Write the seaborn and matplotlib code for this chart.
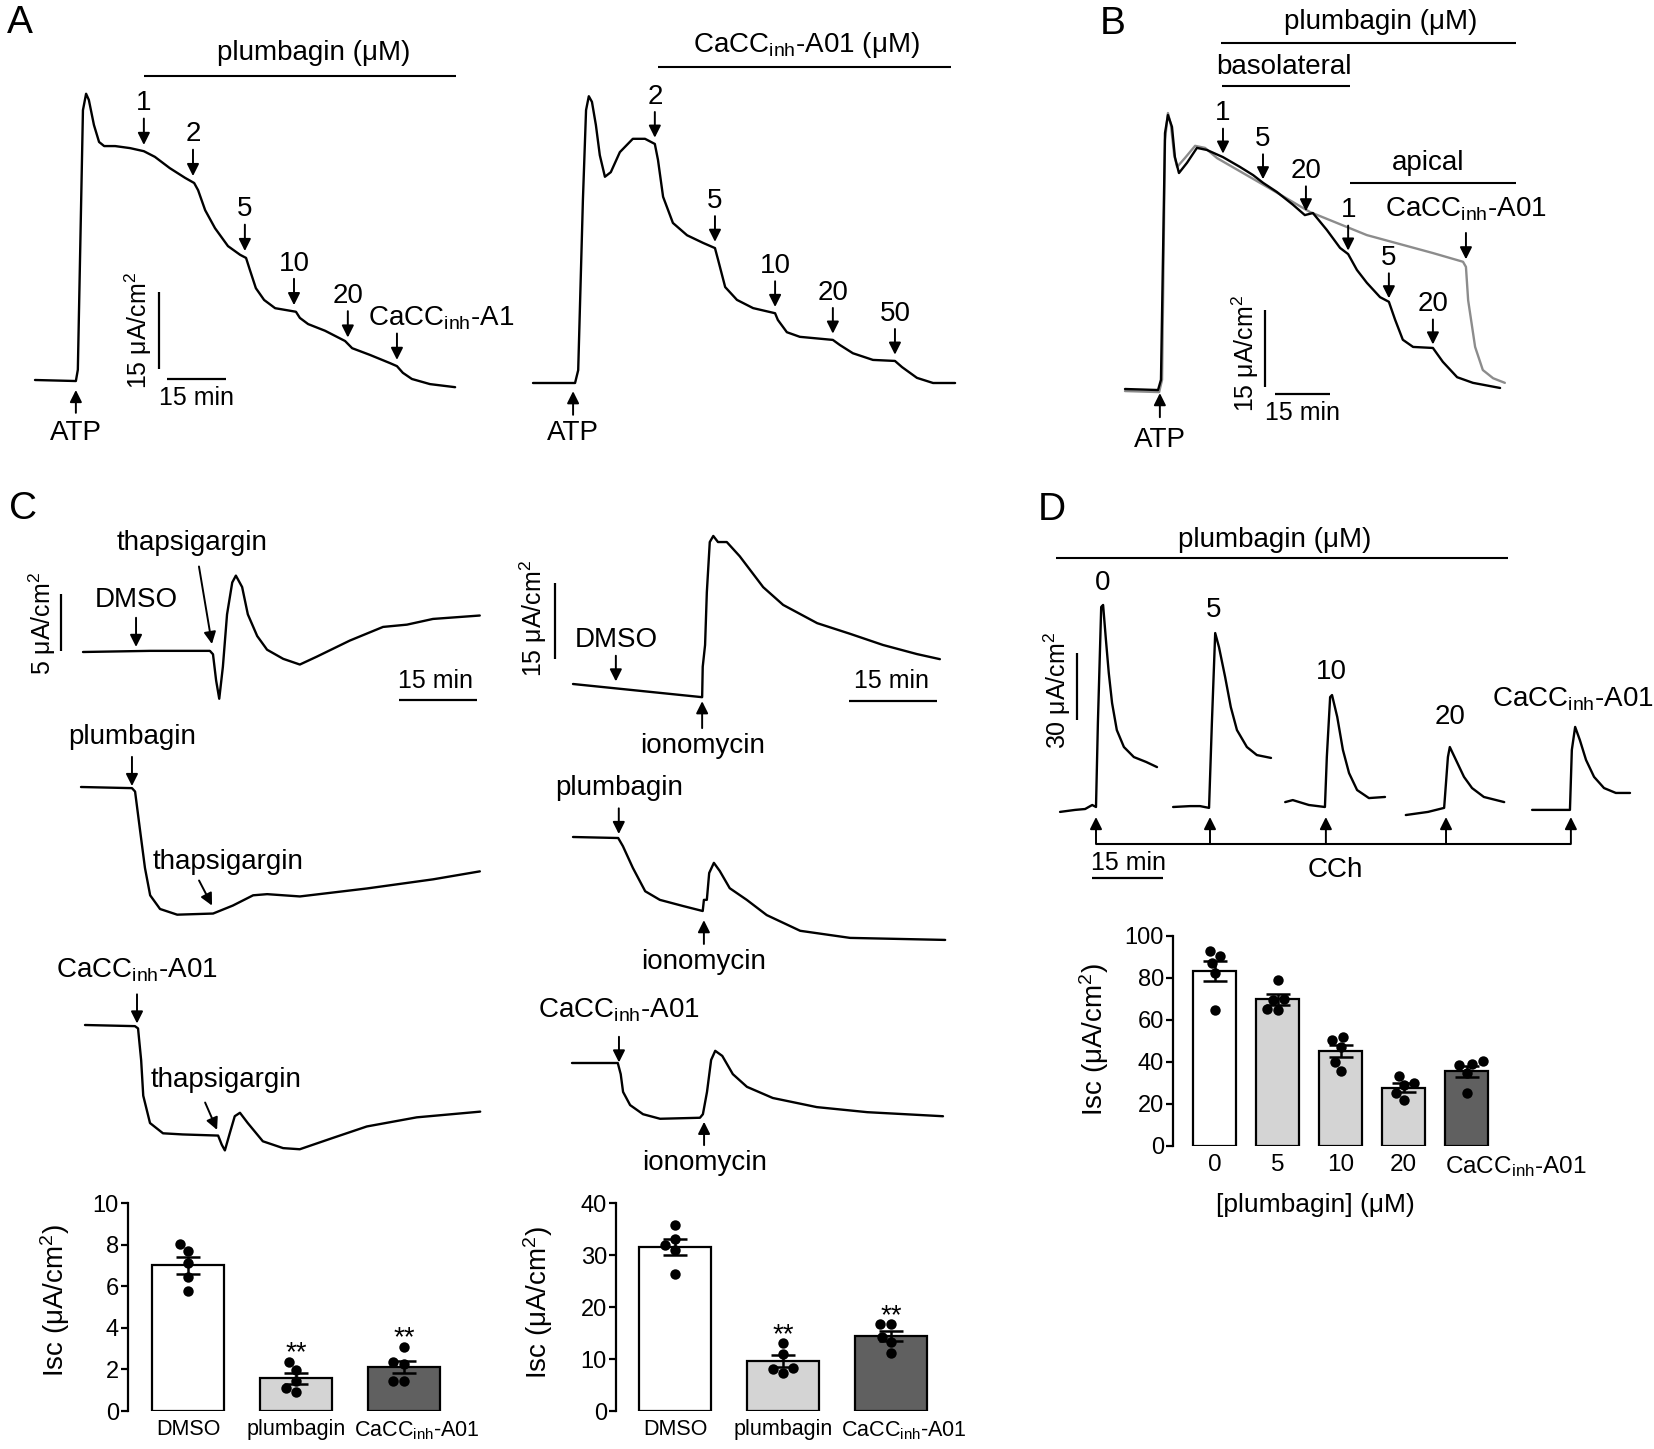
import numpy as np
import pandas as pd
import matplotlib
matplotlib.use("Agg")
import matplotlib.pyplot as plt
import seaborn as sns

# ====================== DATA (time in min, Isc in uA/cm2) ======================
CACC = "CaCC$_{inh}$-A01"

# ---- Panel A left: ATP then cumulative plumbagin
a1_time = [0, 10.4, 10.9, 11.5, 12.2, 13.0, 13.7, 15.0, 16.3, 17.6, 20.4, 24.2, 27.7, 30.5, 34.3,
           38.2, 40.5, 41.5, 43.3, 45.8, 49.1, 52.2, 53.7, 54.7, 56.2, 58.3, 61.1, 64.9, 66.4, 67.4,
           69.5, 73.8, 78.9, 80.7, 85.2, 90.3, 92.1, 93.6, 95.9, 100.5, 106.9]
a1_isc = [0, -0.2, 2.0, 25.3, 52.6, 55.8, 54.6, 49.7, 46.4, 45.6, 45.6, 45.2, 44.6, 43.5, 41.3,
          39.4, 38.4, 37.0, 33.1, 29.6, 26.1, 24.4, 23.8, 21.4, 17.9, 15.6, 14.0, 13.5, 13.3, 12.1,
          10.9, 9.6, 7.6, 6.2, 4.9, 3.3, 2.7, 1.4, 0.2, -0.8, -1.4]
a1_dose_time = [27.7, 40.2, 53.4, 65.9, 79.6, 92.1]
a1_dose_label = ["1", "2", "5", "10", "20", "CaCC$_{inh}$-A1"]
a1_atp_time = 10.4
a1_window = (27.7, 107.1)

# ---- Panel A right: ATP then cumulative CaCCinh-A01
a2_time = [0, 10.7, 11.5, 12.7, 13.5, 14.2, 15.0, 16.0, 17.0, 18.3, 19.8, 22.1, 25.4, 28.5, 31.0,
           31.8, 33.1, 35.6, 39.2, 43.3, 46.3, 47.1, 48.9, 51.9, 56.0, 61.6, 62.3, 64.6, 67.9, 76.3,
           78.1, 81.4, 86.5, 92.1, 93.9, 97.7, 101.8, 107.4]
a2_isc = [0, 0, 2.5, 35.7, 53.2, 55.9, 54.8, 50.3, 44.4, 40.2, 41.1, 45.0, 47.6, 47.6, 46.6,
          43.5, 36.3, 31.2, 28.8, 27.3, 26.3, 24.0, 18.7, 16.2, 14.6, 13.6, 12.3, 9.9, 9.0, 8.4,
          7.4, 5.8, 4.5, 4.3, 3.1, 1.0, 0, 0]
a2_dose_time = [31.0, 46.3, 61.6, 76.3, 92.1]
a2_dose_label = ["2", "5", "10", "20", "50"]
a2_atp_time = 10.2
a2_window = (31.8, 106.4)

# ---- Panel B: basolateral / apical plumbagin (black), control + CaCCinh-A01 (gray)
b_time = [0, 9.0, 9.8, 10.9, 11.7, 12.8, 13.6, 14.7, 16.9, 19.6, 22.3, 26.7, 31.3, 34.9, 37.6,
          41.4, 45.8, 49.0, 51.2, 55.0, 58.6, 60.8, 63.2, 65.9, 69.5, 71.9, 73.6, 75.7, 78.5, 83.9,
          86.6, 90.5, 94.8, 102.2]
b_isc = [0, -0.2, 1.8, 49.9, 53.4, 51.1, 45.2, 42.1, 44.1, 47.0, 46.6, 45.2, 43.3, 41.7, 40.2,
         38.4, 35.9, 33.9, 34.3, 31.0, 27.5, 26.3, 23.2, 20.7, 17.9, 17.0, 13.5, 9.6, 8.2, 8.0,
         5.3, 2.3, 1.2, 0.2]
bg_time = [0, 9.3, 10.1, 10.9, 11.7, 12.5, 13.4, 14.2, 16.3, 19.1, 21.8, 25.1, 38.7, 50.4, 65.9,
           83.9, 92.1, 92.9, 93.5, 95.4, 97.5, 100.3, 103.5]
bg_isc = [-0.4, -0.6, 1.8, 48.5, 53.8, 51.5, 45.6, 43.3, 45.0, 47.4, 47.0, 45.0, 39.4, 34.5, 30.0,
          26.5, 24.8, 23.8, 17.3, 8.2, 3.7, 2.1, 1.2]
b_dose_time = [26.7, 37.6, 49.3, 60.8, 71.9, 83.9]
b_dose_label = ["1", "5", "20", "1", "5", "20"]
b_cacc_time = 92.9
b_atp_time = 9.5
b_window_all = (26.2, 106.5)
b_window_baso = (26.4, 61.3)
b_window_apical = (61.3, 106.5)

# ---- Panel C left: thapsigargin after DMSO / plumbagin / CaCCinh-A01
c1_time = [0, 12.9, 24.4, 25.0, 25.6, 26.2, 26.9, 27.7, 28.7, 29.4, 30.6, 31.7, 33.5, 35.4, 38.5,
           41.7, 45.0, 51.3, 57.7, 62.3, 67.3, 76.3]
c1_isc = [0, 0.1, 0.1, -0.2, -2.5, -4.1, -1.3, 3.3, 6.1, 6.7, 5.7, 3.3, 1.4, 0.2, -0.6,
          -1.1, -0.4, 1.0, 2.2, 2.4, 2.9, 3.2]
c2_time = [0, 9.8, 10.4, 11.3, 12.3, 13.3, 15.2, 18.5, 25.4, 29.2, 33.1, 35.8, 42.1, 55.0, 67.7, 76.7]
c2_isc = [0, -0.1, -0.4, -3.6, -7.1, -9.5, -10.7, -11.2, -11.1, -10.4, -9.5, -9.4, -9.6, -8.9, -8.1, -7.4]
c3_time = [0, 9.6, 10.2, 10.8, 11.2, 12.5, 15.0, 18.8, 25.6, 26.3, 26.9, 27.9, 28.8, 29.8, 31.3,
           34.2, 38.1, 41.3, 47.7, 54.2, 63.8, 76.0]
c3_isc = [0, -0.1, -0.3, -3.1, -6.2, -8.6, -9.5, -9.6, -9.7, -10.5, -11.0, -9.4, -8.0, -7.7, -8.6,
          -10.2, -10.8, -10.9, -9.9, -8.9, -8.1, -7.6]
c_pre_time = [10.2, 9.8, 10.0]

# ---- Panel C right: ionomycin after DMSO / plumbagin / CaCCinh-A01
r1_time = [0, 22.0, 22.1, 22.5, 22.8, 23.3, 23.9, 24.7, 26.2, 28.4, 32.4, 35.8, 41.6, 47.2, 52.8, 58.6, 62.5]
r1_isc = [0, -2.6, 3.4, 7.7, 18.1, 28.0, 29.2, 28.0, 28.0, 25.2, 19.1, 15.6, 12.0, 9.9, 7.7, 5.9, 4.9]
r2_time = [0, 7.7, 8.5, 10.2, 12.3, 14.8, 18.7, 22.1, 22.3, 22.8, 23.2, 24.0, 25.0, 26.7, 29.6,
           33.0, 38.7, 47.2, 63.4]
r2_isc = [0, -0.2, -1.8, -6.1, -10.7, -12.4, -13.6, -14.6, -12.4, -12.4, -7.1, -5.1, -6.7, -10.1, -12.4,
          -15.4, -18.5, -19.9, -20.3]
r3_time = [0, 7.8, 8.3, 8.7, 9.9, 12.1, 15.0, 21.8, 22.3, 23.0, 23.7, 24.4, 25.6, 27.4, 29.8,
           34.2, 41.7, 50.3, 63.2]
r3_isc = [0, 0, -2.2, -5.7, -8.3, -10.1, -11.0, -10.8, -10.1, -5.7, 0.6, 2.4, 1.4, -2.2, -4.7,
          -6.9, -8.7, -9.7, -10.5]
r_pre_time = [7.3, 7.8, 8.0]
r_iono_time = [22.0, 22.3, 22.5]

# ---- Panel D traces: CCh responses at increasing plumbagin
d0_time = [-7.6, -4.4, -2.3, -0.8, 0, 0.4, 1.1, 1.5, 2.1, 2.7, 3.4, 4.4, 5.9, 8.0, 10.6, 12.9]
d0_isc = [-2.2, -1.3, -0.9, 0.9, 0, 37.7, 89.7, 90.6, 74.9, 60.1, 46.6, 34.5, 26.9, 22.4, 20.2, 17.9]
d5_time = [16.3, 19.9, 22.0, 23.9, 24.5, 25.2, 26.0, 27.3, 28.5, 29.8, 31.9, 34.0, 37.0]
d5_isc = [0, 0.4, 0.4, -0.4, 37.7, 78.0, 71.7, 58.3, 44.8, 34.5, 26.9, 23.3, 22.0]
d10_time = [40.0, 41.6, 45.0, 48.4, 48.8, 49.5, 49.9, 51.0, 52.2, 53.5, 55.2, 57.7, 61.1]
d10_isc = [2.2, 3.1, 0.9, 0, 22.4, 49.3, 50.2, 40.4, 25.6, 15.2, 7.6, 4.0, 4.5]
d20_time = [65.5, 70.2, 73.6, 74.4, 74.8, 76.1, 77.8, 79.5, 82.0, 86.3]
d20_isc = [-3.6, -2.2, -0.4, 22.4, 26.9, 21.1, 13.5, 8.5, 4.5, 2.2]
da_time = [92.2, 100.2, 100.6, 101.3, 102.3, 103.6, 105.3, 107.4, 109.9, 112.9]
da_isc = [-1.3, -1.3, 25.6, 35.9, 30.0, 21.1, 13.5, 8.5, 6.3, 6.3]
d_cch_time = [0, 24.1, 48.6, 74.0, 100.4]
d_trace_label = ["0", "5", "10", "20", CACC]

# ---- Bar charts
cl_groups = ["DMSO", "plumbagin", CACC]
cl_mean = [7.0, 1.57, 2.13]
cl_sem = [0.40, 0.27, 0.29]
cl_points = [[8.05, 7.7, 7.12, 6.45, 5.78], [2.37, 1.97, 1.46, 1.09, 0.93], [3.09, 2.37, 2.24, 1.46, 1.46]]

cr_groups = ["DMSO", "plumbagin", CACC]
cr_mean = [31.55, 9.6, 14.46]
cr_sem = [1.5, 1.1, 1.0]
cr_points = [[35.7, 33.0, 31.9, 30.9, 26.3], [13.0, 10.9, 8.2, 8.0, 7.4], [16.7, 16.7, 14.3, 13.3, 11.2]]

d_groups = ["0", "5", "10", "20", CACC]
d_mean = [83.3, 69.8, 45.2, 27.8, 35.6]
d_sem = [4.9, 2.8, 2.8, 2.0, 2.6]
d_points = [[93.0, 90.5, 87.0, 82.2, 65.0], [79.0, 70.0, 69.5, 65.2, 65.0], [52.0, 50.4, 47.2, 40.1, 35.8],
            [33.4, 30.2, 28.9, 25.3, 21.8], [40.4, 39.0, 38.5, 34.8, 25.3]]

# ====================== STYLE ======================
sns.set_style("white", rc={"axes.edgecolor": "black", "text.color": "black",
                           "xtick.color": "black", "ytick.color": "black",
                           "axes.labelcolor": "black"})
plt.rcParams["font.family"] = ["Liberation Sans", "DejaVu Sans"]
plt.rcParams["mathtext.default"] = "regular"

W, H = 1654, 1449
fig = plt.figure(figsize=(W / 100, H / 100), dpi=100)
fig.patch.set_facecolor("white")
FS = 20
SFS = 18
GRAY = "#8c8c8c"


def trace_ax(box, origin, ppm, ppu):
    x0, y0, x1, y1 = box
    ox, oy = origin
    ax = fig.add_axes([x0 / W, 1 - y1 / H, (x1 - x0) / W, (y1 - y0) / H])
    ax.set_xlim((x0 - ox) / ppm, (x1 - ox) / ppm)
    ax.set_ylim((oy - y1) / ppu, (oy - y0) / ppu)
    ax.axis("off")
    return ax


def draw_trace(ax, t, i, color="black"):
    xl, yl = ax.get_xlim(), ax.get_ylim()
    sns.lineplot(x=t, y=i, ax=ax, color=color, linewidth=1.7, sort=False, estimator=None)
    ax.set_xlim(xl)
    ax.set_ylim(yl)
    for ln in ax.lines:
        ln.set_clip_on(False)
        ln.set_solid_joinstyle("round")
    ax.axis("off")


def label(ax, x, y, s, fs=FS, rot=0, ha="center"):
    ax.text(x, y, s, fontsize=fs, ha=ha, va="center", rotation=rot, clip_on=False)


def arrow(ax, x0, y0, x1, y1):
    ax.annotate("", xy=(x1, y1), xytext=(x0, y0),
                arrowprops=dict(arrowstyle="-|>", color="black", lw=1.4, shrinkA=0, shrinkB=0,
                                mutation_scale=18), annotation_clip=False)


def down_arrow(ax, t, y, gap, length, text=None, lab_off=11, lab_dx=0):
    ax.annotate("", xy=(t, y), xytext=(0, gap + length), textcoords="offset points",
                arrowprops=dict(arrowstyle="-|>", color="black", lw=1.4, shrinkA=0, shrinkB=gap,
                                mutation_scale=18), annotation_clip=False)
    if text is not None:
        ax.annotate(text, xy=(t, y), xytext=(lab_dx, gap + length + lab_off),
                    textcoords="offset points", ha="center", va="center", fontsize=FS,
                    annotation_clip=False)


def hline(ax, x0, x1, y):
    ax.plot([x0, x1], [y, y], color="black", lw=1.5, clip_on=False, solid_capstyle="butt")


def scalebar(ax, vx, vy, vtext, vxy, hy, hx, htext, hxy):
    ax.plot([vx, vx], list(vy), color="black", lw=1.6, clip_on=False, solid_capstyle="butt")
    ax.plot(list(hx), [hy, hy], color="black", lw=1.6, clip_on=False, solid_capstyle="butt")
    label(ax, vxy[0], vxy[1], vtext, fs=SFS, rot=90)
    label(ax, hxy[0], hxy[1], htext, fs=SFS)


# ---------------- panel letters ----------------
for s, (px, py) in {"A": (20, 23), "B": (1113, 24), "C": (23, 509), "D": (1052, 510)}.items():
    fig.text(px / W, 1 - py / H, s, fontsize=28, ha="center", va="center")

# ---------------- Panel A left ----------------
ax = trace_ax((0, 30, 520, 470), (35, 380), 3.93, 5.13)
draw_trace(ax, a1_time, a1_isc)
hline(ax, a1_window[0], a1_window[1], 59.3)
label(ax, 71, 63.7, "plumbagin (μM)")
for t, lab, dx in zip(a1_dose_time, a1_dose_label, [0, 0, 0, 0, 0, 32]):
    down_arrow(ax, t, np.interp(t, a1_time, a1_isc), gap=4.5, length=19, text=lab, lab_off=11, lab_dx=dx)
arrow(ax, a1_atp_time, -6.4, a1_atp_time, -1.95)
label(ax, a1_atp_time, -10.3, "ATP")
scalebar(ax, 31.6, (2.1, 17.2), "15 μA/cm$^2$", (26.2, 9.6), 0.2, (33.6, 48.6), "15 min", (41.1, -3.5))

# ---------------- Panel A right ----------------
ax = trace_ax((520, 30, 990, 470), (533, 383), 3.93, 5.13)
draw_trace(ax, a2_time, a2_isc)
hline(ax, a2_window[0], a2_window[1], 61.6)
label(ax, 69.5, 65.8, CACC + " (μM)")
for t, lab in zip(a2_dose_time, a2_dose_label):
    down_arrow(ax, t, np.interp(t, a2_time, a2_isc), gap=4.5, length=18.5, text=lab, lab_off=11)
arrow(ax, a2_atp_time, -6.2, a2_atp_time, -1.6)
label(ax, a2_atp_time, -9.7, "ATP")

# ---------------- Panel B ----------------
ax = trace_ax((1090, 0, 1654, 470), (1125, 389), 3.67, 5.13)
draw_trace(ax, bg_time, bg_isc, color=GRAY)
draw_trace(ax, b_time, b_isc, color="black")
hline(ax, b_window_all[0], b_window_all[1], 67.4)
label(ax, 69.8, 71.5, "plumbagin (μM)")
hline(ax, b_window_baso[0], b_window_baso[1], 59.1)
label(ax, 43.3, 62.8, "basolateral")
hline(ax, b_window_apical[0], b_window_apical[1], 40.2)
label(ax, 82.6, 44.1, "apical")
for t, lab in zip(b_dose_time, b_dose_label):
    down_arrow(ax, t, np.interp(t, b_time, b_isc), gap=2.5, length=18, text=lab, lab_off=11)
down_arrow(ax, b_cacc_time, np.interp(b_cacc_time, bg_time, bg_isc) + 0.8, gap=2.5, length=19,
           text=CACC, lab_off=17)
arrow(ax, b_atp_time, -5.5, b_atp_time, -0.8)
label(ax, b_atp_time, -9.9, "ATP")
scalebar(ax, 38.1, (0.4, 15.4), "15 μA/cm$^2$", (32.7, 7.0), -1.0, (40.9, 55.9), "15 min", (48.4, -4.7))

# ---------------- Panel C left ----------------
c_traces = [(c1_time, c1_isc, (0, 520, 500, 720), (83, 652)),
            (c2_time, c2_isc, (0, 720, 500, 900), (81, 787)),
            (c3_time, c3_isc, (0, 900, 500, 1170), (85, 1025))]
c_pre_label = ["DMSO", "plumbagin", CACC]
c_lab_off = [13, 14, 17]
c_gap = [3, 1.5, 3]
c_thaps = [((22.3, 7.5), (24.8, 0.7), (21.0, 9.6)),
           ((22.7, -8.2), (25.2, -10.4), (28.3, -6.6)),
           ((23.1, -6.8), (25.4, -9.2), (27.1, -4.8))]
for k, (tt, ii, box, org) in enumerate(c_traces):
    ax = trace_ax(box, org, 5.2, 11.4)
    draw_trace(ax, tt, ii)
    tp = c_pre_time[k]
    down_arrow(ax, tp, np.interp(tp, tt, ii), gap=c_gap[k], length=21, text=c_pre_label[k], lab_off=c_lab_off[k])
    tail, tip, lab = c_thaps[k]
    arrow(ax, tail[0], tail[1], tip[0], tip[1])
    label(ax, lab[0], lab[1], "thapsigargin")
    if k == 0:
        scalebar(ax, -4.2, (0.1, 5.1), "5 μA/cm$^2$", (-7.9, 2.5), -4.2, (60.8, 75.8), "15 min", (67.7, -2.5))

# ---------------- Panel C right ----------------
r_traces = [(r1_time, r1_isc, (500, 500, 1000, 760), (573, 684)),
            (r2_time, r2_isc, (500, 760, 1000, 985), (573, 837)),
            (r3_time, r3_isc, (500, 985, 1000, 1180), (572, 1063))]
r_pre_label = ["DMSO", "plumbagin", CACC]
r_gap = [5, 3.6, 3.6]
r_lab_off = [11.5, 15, 19]
r_iono = [(-8.7, -3.4, -12.2), (-21.1, -16.4, -24.7), (-16.2, -11.6, -19.7)]
for k, (tt, ii, box, org) in enumerate(r_traces):
    ax = trace_ax(box, org, 5.87, 5.07)
    draw_trace(ax, tt, ii)
    tp = r_pre_time[k]
    down_arrow(ax, tp, np.interp(tp, tt, ii), gap=r_gap[k], length=18.5, text=r_pre_label[k], lab_off=r_lab_off[k])
    tail, tip, lab = r_iono[k]
    arrow(ax, r_iono_time[k], tail, r_iono_time[k], tip)
    label(ax, r_iono_time[k], lab, "ionomycin")
    if k == 0:
        scalebar(ax, -3.1, (4.9, 19.9), "15 μA/cm$^2$", (-6.8, 13.0), -3.4, (47.0, 62.0), "15 min", (54.2, 0.6))

# ---------------- Panel D traces ----------------
ax = trace_ax((1030, 490, 1654, 900), (1096, 807), 4.73, 2.23)
for tt, ii in [(d0_time, d0_isc), (d5_time, d5_isc), (d10_time, d10_isc), (d20_time, d20_isc), (da_time, da_isc)]:
    draw_trace(ax, tt, ii)
hline(ax, -8.5, 87.1, 111.7)
label(ax, 37.8, 119.7, "plumbagin (μM)")
for (x, y), s in zip([(1.3, 100.4), (24.9, 88.3), (49.7, 60.5), (74.8, 40.4), (100.8, 48.5)], d_trace_label):
    label(ax, x, y, s)
for t in d_cch_time:
    arrow(ax, t, -16.6, t, -4.5)
hline(ax, d_cch_time[0], d_cch_time[-1], -16.6)
label(ax, 50.5, -28.3, "CCh")
scalebar(ax, -4.0, (39.0, 69.0), "30 μA/cm$^2$", (-8.2, 52.5), -31.8, (-0.8, 14.2), "15 min", (6.8, -25.1))


# ---------------- Bar charts ----------------
def bar_panel(box, xlim, ymax, yticks, groups, means, sems, points, colors, width,
              ylab_xy, xtick_fs, stars=(), xlabel=None, xlab_xy=None, last_mode="center", last_dx=0):
    x0, y0, x1, y1 = box
    ax = fig.add_axes([x0 / W, 1 - y1 / H, (x1 - x0) / W, (y1 - y0) / H])
    sns.barplot(x=groups, y=means, hue=groups, order=groups, hue_order=groups, palette=colors,
                saturation=1, width=width, edgecolor="black", linewidth=1.6, legend=False,
                ax=ax, zorder=2)
    ax.errorbar(range(len(groups)), means, yerr=sems, fmt="none", ecolor="black",
                elinewidth=1.8, capsize=8.5, capthick=1.8, zorder=3)
    df = pd.DataFrame({"g": np.repeat(groups, [len(p) for p in points]),
                       "v": np.concatenate(points)})
    sns.swarmplot(data=df, x="g", y="v", order=groups, color="black", size=7.5, ax=ax, zorder=4)
    ax.set_xlim(*xlim)
    ax.set_ylim(0, ymax)
    ax.set_yticks(yticks)
    ax.set_yticklabels([str(v) for v in yticks])
    n = len(groups)
    ax.set_xticks(range(n))
    ax.set_xticklabels(list(groups[:-1]) + [""])
    # last category label (offset as in the original figure)
    lx = n - 1 - width / 2 if last_mode == "left" else n - 1
    ax.annotate(groups[-1], xy=(lx, 0), xycoords=("data", "axes fraction"),
                xytext=(last_dx, -6), textcoords="offset points", ha=last_mode, va="top",
                fontsize=xtick_fs, annotation_clip=False)
    for sp in ["top", "right", "bottom"]:
        ax.spines[sp].set_visible(False)
    ax.spines["left"].set_linewidth(1.6)
    ax.spines["left"].set_bounds(0, ymax)
    ax.tick_params(axis="y", left=True, length=5, width=1.6, labelsize=17, pad=1.5, direction="out")
    ax.tick_params(axis="x", bottom=False, length=0, labelsize=xtick_fs, pad=6)
    ax.set_xlabel("")
    ax.set_ylabel("Isc (μA/cm$^{2}$)", fontsize=20)
    ax.yaxis.set_label_coords(*ylab_xy)
    if xlabel:
        ax.set_xlabel(xlabel, fontsize=19)
        ax.xaxis.set_label_coords(*xlab_xy)
    for i in stars:
        ax.annotate("**", xy=(i, max(points[i])), xytext=(0, 1), textcoords="offset points",
                    ha="center", va="baseline", fontsize=20, annotation_clip=False)
    ax.patch.set_alpha(0)
    return ax


bar_panel((128, 1203, 458, 1411), (-0.556, 2.5), 10, [0, 2, 4, 6, 8, 10], cl_groups, cl_mean, cl_sem,
          cl_points, ["white", "#d4d4d4", "#606060"], 0.667, (-0.17, 0.53), 15.5, stars=(1, 2),
          last_mode="center", last_dx=9)
bar_panel((616, 1203, 945, 1411), (-0.546, 2.5), 40, [0, 10, 20, 30, 40], cr_groups, cr_mean, cr_sem,
          cr_points, ["white", "#d4d4d4", "#606060"], 0.667, (-0.185, 0.52), 15.5, stars=(1, 2),
          last_mode="center", last_dx=9)
bar_panel((1173, 936, 1498, 1146), (-0.66, 4.5), 100, [0, 20, 40, 60, 80, 100], d_groups, d_mean, d_sem,
          d_points, ["white", "#d4d4d4", "#d4d4d4", "#d4d4d4", "#606060"], 0.68, (-0.19, 0.505), 17.5,
          xlabel="[plumbagin] (μM)", xlab_xy=(0.437, -0.224), last_mode="left", last_dx=0)

fig.savefig("out.png", dpi=100, facecolor="white")
